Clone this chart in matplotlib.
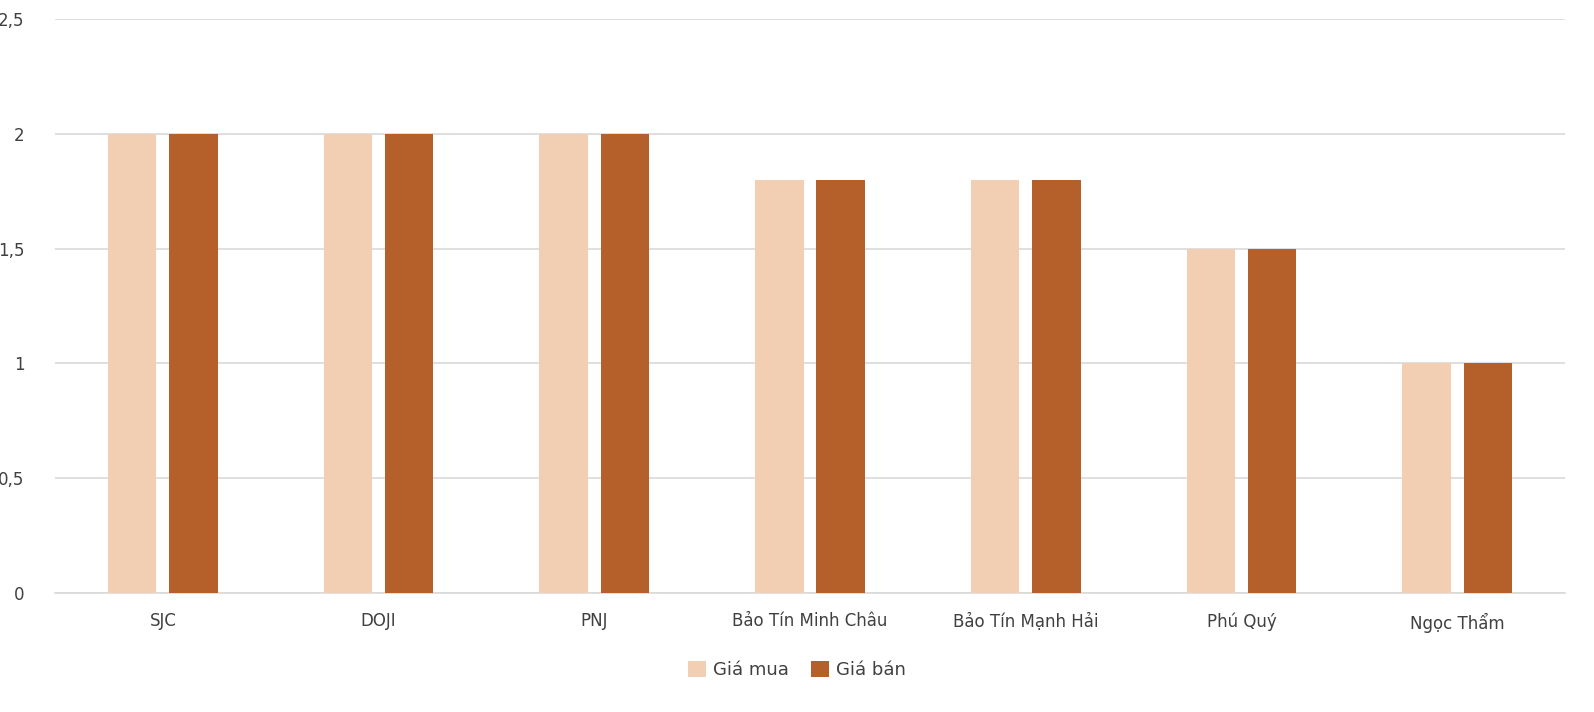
import matplotlib.pyplot as plt
import numpy as np

categories = ['SJC', 'DOJI', 'PNJ', 'Bảo Tín Minh Châu', 'Bảo Tín Mạnh Hải', 'Phú Quý', 'Ngọc Thẩm']
gia_mua = [2, 2, 2, 1.8, 1.8, 1.5, 1]
gia_ban = [2, 2, 2, 1.8, 1.8, 1.5, 1]
yticks = [0, 0.5, 1, 1.5, 2, 2.5]
ytick_labels = ['0', '0,5', '1', '1,5', '2', '2,5']

plt.rcParams['font.family'] = ['DejaVu Sans']
fig = plt.figure(figsize=(15.94, 7.12), dpi=100)
ax = fig.add_axes([55/1594, 1 - 593/712, (1565-55)/1594, (593-19)/712])

x = np.arange(len(categories))
w = 0.224
ax.bar(x - 0.142, gia_mua, w, color='#F2CFB2', label='Giá mua', zorder=3)
ax.bar(x + 0.142, gia_ban, w, color='#B5602A', label='Giá bán', zorder=3)

ax.set_xlim(-0.5, len(categories) - 0.5)
ax.set_ylim(0, 2.5)
ax.set_yticks(yticks)
ax.set_yticklabels(ytick_labels)
ax.set_xticks(x)
ax.set_xticklabels(categories)
ax.grid(axis='y', color='#D9D9D9', linewidth=1.2, zorder=0)
for s in ['top', 'right', 'left']:
    ax.spines[s].set_visible(False)
ax.spines['bottom'].set_color('#D9D9D9')
ax.spines['bottom'].set_linewidth(1.2)
ax.tick_params(length=0, labelsize=12, colors='#404040')
ax.tick_params(axis='x', pad=14)
ax.tick_params(axis='y', pad=22)

fig.legend(loc='center', bbox_to_anchor=(0.5, 1 - 670/712), ncol=2, frameon=False,
           fontsize=13, handlelength=1.0, handleheight=1.0, columnspacing=1.2,
           handletextpad=0.4, labelcolor='#404040')

fig.savefig('out.png', dpi=100)
